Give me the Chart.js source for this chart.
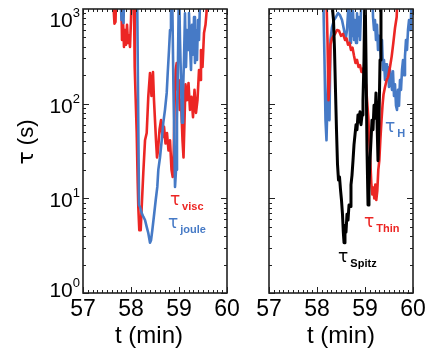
<!DOCTYPE html>
<html lang="en">
<head>
<meta charset="UTF-8">
<title>Damping times</title>
<script src="https://cdn.jsdelivr.net/npm/chart.js@4.4.1/dist/chart.umd.min.js"></script>
<style>
  body { margin: 0; background: #fff; }
  canvas { position: absolute; left: 0; top: 0; }
</style>
</head>
<body>
<canvas id="left" width="426" height="355"></canvas>
<canvas id="right" width="426" height="355"></canvas>
<script>
// values: time in minutes, tau in seconds.
// 2000 means the curve runs off the top of the plot (clipped at 10^3)
const tVisc = [57.604, 57.656, 57.677, 57.698, 57.792, 57.813, 57.833, 57.854, 57.875, 57.896, 57.917, 57.938, 57.958, 57.979, 58.000, 58.021,
  58.063, 58.077, 58.119, 58.140, 58.152, 58.173, 58.202, 58.223, 58.256, 58.292, 58.327, 58.360, 58.396, 58.427, 58.458, 58.479, 58.500,
  58.521, 58.542, 58.563, 58.594, 58.625, 58.656, 58.688, 58.719, 58.750, 58.781, 58.813, 58.844, 58.869, 58.890, 58.910, 58.931, 58.952,
  58.973, 58.994, 59.015, 59.042, 59.073, 59.094, 59.115, 59.135, 59.167, 59.198, 59.229, 59.260, 59.292, 59.323, 59.354, 59.385, 59.417,
  59.438, 59.458, 59.490, 59.521, 59.552, 59.573, 59.594];
const visc = [2000, 700, 730, 2000, 2000, 470, 765, 397, 600, 420, 680, 438, 520, 397, 765, 2000,
  1000, 244, 49, 14.5, 8.1, 4.6, 4.6, 8.1, 18.5, 41, 49, 118, 211, 121, 216, 109, 67,
  41, 27, 32, 53, 67, 44, 57, 38, 49, 32, 41, 20, 16.8, 32, 109, 227, 269,
  140, 178, 86, 109, 41, 27, 67, 160, 109, 165, 86, 118, 72, 140, 80, 109, 227,
  178, 369, 244, 558, 680, 907, 2000];

const tJoule = [57.771, 57.802, 57.823, 57.844, 57.865, 58.115, 58.131, 58.167, 58.188, 58.223, 58.256, 58.292, 58.327, 58.360, 58.396,
  58.417, 58.444, 58.485, 58.515, 58.548, 58.569, 58.604, 58.640, 58.673, 58.708, 58.744, 58.765, 58.792, 58.813, 58.833, 58.854, 58.885,
  58.917, 58.938, 58.958, 58.979, 59.000, 59.021, 59.042, 59.063, 59.083, 59.104, 59.125, 59.146, 59.167, 59.188, 59.208, 59.229, 59.250,
  59.271, 59.292, 59.313, 59.333, 59.354, 59.375, 59.396, 59.417, 59.448];
const joule = [2000, 765, 900, 711, 2000, 2000, 1000, 8.5, 8.1, 7.0, 6.4, 5.9, 5.0, 4.3, 3.4,
  3.6, 4.6, 7.0, 9.6, 13.2, 20, 27, 41, 63, 86, 130, 211, 369, 600, 2000, 2000, 140,
  13.2, 20, 67, 289, 2000, 471, 178, 63, 130, 289, 900, 244, 600, 369, 907, 420, 227,
  680, 330, 823, 269, 600, 289, 765, 471, 2000];

const tH = [58.125, 58.156, 58.177, 58.198, 58.219, 58.240, 58.260, 58.281, 58.313, 58.354, 58.396, 58.438, 58.479, 58.521, 58.563,
  58.594, 58.625, 58.646, 58.667, 58.688, 58.708, 58.729, 58.750, 58.771, 58.792, 58.813, 58.833, 58.854, 58.875, 58.896, 58.917, 58.938,
  59.146, 59.167, 59.188, 59.208, 59.229, 59.250, 59.271, 59.292, 59.313, 59.333, 59.354, 59.375, 59.396, 59.417, 59.438, 59.458, 59.479,
  59.500, 59.521, 59.542, 59.563, 59.583, 59.604, 59.625, 59.646, 59.667, 59.688, 59.708, 59.729, 59.750, 59.771, 59.792, 59.813, 59.833,
  59.854, 59.875, 59.896, 59.917, 59.938, 59.958, 59.979];
const tauH = [2000, 289, 67, 41, 109, 289, 67, 471, 645, 765, 823, 907, 860, 765, 600,
  471, 600, 907, 2000, 438, 900, 520, 950, 471, 765, 438, 900, 520, 823, 471, 950, 2000,
  2000, 823, 600, 765, 471, 680, 369, 520, 420, 289, 471, 227, 289, 178, 260, 195, 244,
  150, 227, 178, 140, 220, 121, 160, 95, 86, 140, 95, 178, 140, 227, 289, 200, 316,
  471, 369, 600, 765, 600, 823, 2000];

const tThin = [58.188, 58.219, 58.240, 58.260, 58.281, 58.313, 58.344, 58.375, 58.417, 58.458, 58.500, 58.542, 58.583, 58.615, 58.646,
  58.677, 58.708, 58.740, 58.771, 58.802, 58.833, 58.865, 58.896, 58.927, 58.958, 58.990, 59.021, 59.042, 59.069, 59.090, 59.110, 59.131,
  59.152, 59.173, 59.194, 59.215, 59.235, 59.256, 59.277, 59.298, 59.319, 59.344, 59.365, 59.385, 59.417, 59.452, 59.485, 59.521, 59.556,
  59.590, 59.625, 59.660, 59.688];
const thin = [2000, 471, 109, 178, 420, 490, 520, 545, 600, 590, 520, 545, 471, 490, 420,
  438, 369, 390, 320, 269, 290, 244, 255, 216, 235, 186, 158, 109, 72, 41, 25, 14.5,
  11, 13, 10, 14, 9.6, 12, 20, 25, 41, 67, 96, 124, 150, 178, 195, 244, 316,
  438, 630, 823, 2000];

const tSpitz = [58.292, 58.323, 58.344, 58.365, 58.385, 58.406, 58.427, 58.448, 58.469, 58.490, 58.510, 58.531, 58.548, 58.563, 58.583,
  58.604, 58.625, 58.646, 58.667, 58.688, 58.708, 58.729, 58.750, 58.771, 58.792, 58.813, 58.833, 58.854, 58.875, 58.896, 58.917, 58.938,
  58.958, 58.979, 59.000, 59.021, 59.042, 59.063, 59.083, 59.104, 59.125, 59.146, 59.167, 59.188, 59.208, 59.229, 59.250, 59.271, 59.292,
  59.313, 59.333];
const spitz = [2000, 1000, 765, 369, 140, 53, 23, 15.6, 16.8, 12.3, 9.6, 6.8, 4.4, 3.4, 5.2,
  4.4, 6.8, 5.9, 8.5, 8.2, 13.9, 17.5, 25, 37, 47, 60, 53, 76, 64, 82, 60, 76,
  109, 289, 2000, 289, 32, 8.5, 13.9, 25, 41, 67, 53, 96, 70, 130, 67, 25, 67,
  289, 2000];

const xTicks = [57, 58, 59, 60];
const yTicks = [1, 10, 100, 1000];
const yExp = ['0', '1', '2', '3'];

const RED = 'rgb(236,38,36)';
const BLUE = 'rgb(70,122,198)';
const BLACK = '#000';
const FONT = '"Liberation Sans", Arial, sans-serif';
const GREEK = '"DejaVu Sans", sans-serif';

function pts(ts, vs) {
  return ts.map((t, i) => ({ x: t, y: vs[i] }));
}

// IDL style frame: box, inward ticks on all sides, custom tick labels and curve labels
const frame = {
  id: 'frame',
  afterDatasetsDraw(chart, args, o) {
    const ctx = chart.ctx;
    const a = chart.chartArea;
    const xs = chart.scales.x, ys = chart.scales.y;
    ctx.save();
    ctx.strokeStyle = '#222';
    ctx.lineWidth = 1;
    ctx.beginPath();
    for (let i = 0; i <= 30; i++) {
      const px = Math.round(xs.getPixelForValue(57 + i / 10)) + 0.5;
      const len = i % 10 === 0 ? 6 : 3;
      ctx.moveTo(px, a.bottom); ctx.lineTo(px, a.bottom - len);
      ctx.moveTo(px, a.top); ctx.lineTo(px, a.top + len);
    }
    for (let d = 0; d < 3; d++) {
      for (let m = 1; m < 10; m++) {
        const py = Math.round(ys.getPixelForValue(m * Math.pow(10, d))) + 0.5;
        const len = m === 1 ? 6 : 3;
        ctx.moveTo(a.left, py); ctx.lineTo(a.left + len, py);
        ctx.moveTo(a.right, py); ctx.lineTo(a.right - len, py);
      }
    }
    ctx.stroke();
    ctx.lineWidth = 1.6;
    ctx.strokeRect(a.left, a.top, a.right - a.left, a.bottom - a.top);

    ctx.fillStyle = '#000';
    ctx.textBaseline = 'alphabetic';
    ctx.font = '23px ' + FONT;
    ctx.textAlign = 'center';
    xTicks.forEach(v => ctx.fillText(String(v), xs.getPixelForValue(v), 316));
    ctx.font = '24px ' + FONT;
    ctx.fillText('t (min)', (a.left + a.right) / 2 + o.titleShift, 343);

    if (o.yLabels) {
      yTicks.forEach((v, i) => {
        const base = Math.min(297, Math.max(27, ys.getPixelForValue(v) + 9));
        ctx.font = '13px ' + FONT;
        ctx.textAlign = 'right';
        ctx.fillText(yExp[i], 80, base - 10);
        const w = ctx.measureText(yExp[i]).width;
        ctx.font = '21px ' + FONT;
        ctx.fillText('10', 80 - w, base);
      });
      ctx.save();
      ctx.translate(33, 142);
      ctx.rotate(-Math.PI / 2);
      ctx.textAlign = 'left';
      ctx.font = '22px ' + GREEK;
      const tw = ctx.measureText('\u03c4').width;
      ctx.font = '22px ' + FONT;
      const sw = ctx.measureText(' (s)').width;
      const x0 = -(tw + sw) / 2;
      ctx.font = '22px ' + GREEK;
      ctx.fillText('\u03c4', x0, 0);
      ctx.font = '22px ' + FONT;
      ctx.fillText(' (s)', x0 + tw, 0);
      ctx.restore();
    }

    o.labels.forEach(l => {
      const x = xs.getPixelForValue(l.t);
      const y = ys.getPixelForValue(l.tau);
      ctx.fillStyle = l.color;
      ctx.textAlign = 'left';
      ctx.font = '17px ' + GREEK;
      ctx.fillText('\u03c4', x, y);
      const w = ctx.measureText('\u03c4').width;
      ctx.font = 'bold 11px ' + FONT;
      ctx.fillText(l.sub, x + w + 2, y + 5);
    });
    ctx.restore();
  }
};

function makeChart(id, datasets, pad, o) {
  return new Chart(document.getElementById(id), {
    type: 'line',
    data: { datasets: datasets },
    options: {
      responsive: false,
      animation: false,
      devicePixelRatio: 1,
      layout: { padding: pad },
      elements: { point: { radius: 0 }, line: { tension: 0, borderJoinStyle: 'round' } },
      scales: {
        x: { type: 'linear', min: 57, max: 60, display: false },
        y: { type: 'logarithmic', min: 1, max: 1000, display: false }
      },
      plugins: { legend: { display: false }, tooltip: { enabled: false }, frame: o }
    },
    plugins: [frame]
  });
}

makeChart('left', [
  { data: pts(tJoule, joule), borderColor: BLUE, borderWidth: 2.6, order: 0, clip: 0 },
  { data: pts(tVisc, visc), borderColor: RED, borderWidth: 2.6, order: 1, clip: 0 }
], { left: 83, right: 199, top: 9, bottom: 62 }, {
  yLabels: true, titleShift: -6,
  labels: [
    { t: 58.81, tau: 8.5, color: RED, sub: 'visc' },
    { t: 58.77, tau: 4.9, color: BLUE, sub: 'joule' }
  ]
});

makeChart('right', [
  { data: pts(tSpitz, spitz), borderColor: BLACK, borderWidth: 3, order: 0, clip: 0 },
  { data: pts(tThin, thin), borderColor: RED, borderWidth: 2.6, order: 1, clip: 0 },
  { data: pts(tH, tauH), borderColor: BLUE, borderWidth: 2.6, order: 2, clip: 0 }
], { left: 269, right: 13, top: 9, bottom: 62 }, {
  yLabels: false, titleShift: 0,
  labels: [
    { t: 59.417, tau: 50, color: BLUE, sub: 'H' },
    { t: 58.98, tau: 5.0, color: RED, sub: 'Thin' },
    { t: 58.44, tau: 2.13, color: BLACK, sub: 'Spitz' }
  ]
});
</script>
</body>
</html>
